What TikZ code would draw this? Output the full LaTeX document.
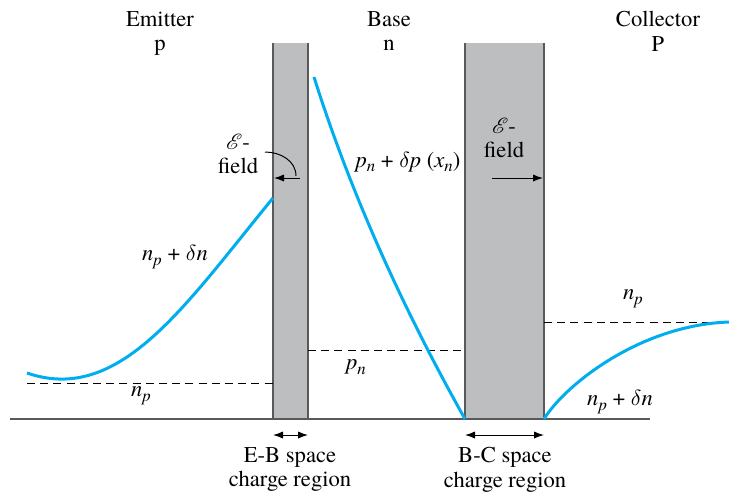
\documentclass[tikz,border=0pt]{standalone}
\usepackage{mathrsfs}
\usepackage{fontspec}
\setmainfont{texgyretermes}[Extension=.otf, UprightFont=*-regular, ItalicFont=*-italic, BoldFont=*-bold, BoldItalicFont=*-bolditalic]
\usetikzlibrary{arrows.meta}
\definecolor{carrier}{HTML}{00AEEF}
\definecolor{scrfill}{HTML}{BCBEC0}
\definecolor{scredge}{HTML}{58595B}
\newcommand{\cq}[2]{\textit{#1}\raisebox{-0.45ex}{\fontsize{8.4}{9}\selectfont\textit{#2}}}

\begin{document}
\begin{tikzpicture}[x=0.5pt, y=-0.5pt,
  font=\fontsize{11.3}{12.3}\selectfont,
  lbl/.style={align=center, inner sep=0pt},
  conc/.style={carrier, line width=1.5pt},
  eq/.style={dash pattern=on 4pt off 2.6pt, line width=0.5pt},
  fld/.style={-{Latex[length=5pt,width=3.6pt]}, line width=0.5pt}]
  \useasboundingbox (0,0) rectangle (729,495);

  \node[lbl, anchor=north] (em)  at (160,11)  {Emitter\\p};
  \node[lbl, anchor=north] (ba)  at (389,11)  {Base\\n};
  \node[lbl, anchor=north] (co)  at (658,11)  {Collector\\P};

  \coordinate (ebT) at (273,43);  \coordinate (ebB) at (308,419);
  \coordinate (bcT) at (465,43);  \coordinate (bcB) at (544,419);
  \fill[scrfill] (ebT) rectangle (ebB);
  \fill[scrfill] (bcT) rectangle (bcB);
  \draw[scredge, line width=0.7pt] (273,43) -- (273,419) (308,43) -- (308,419);
  \draw[scredge, line width=0.7pt] (465,43) -- (465,419) (544,43) -- (544,419);
  \draw[scredge, line width=0.8pt] (10,419) -- (650,419);

  \draw[eq] (27,383) -- (273,383);
  \draw[eq] (308,350) -- (465,350);
  \draw[eq] (544,322) -- (729,322);

  \draw[conc] (27,373) .. controls (120,405) and (185,305) .. (273,198);
  \draw[conc] (314,77) .. controls (350,191) and (401,305) .. (465,419);
  \draw[conc] (544,419) .. controls (565,385) and (640,325) .. (729,322);

  \node (npl)  at (175,257) {\cq{n}{p} + $\delta$\textit{n}};
  \node (pnd)  at (408,162) {\cq{p}{n} + $\delta$\textit{p} (\cq{x}{n})};
  \node (pn)   at (356,367) {\cq{p}{n}};
  \node (np0)  at (141,396) {\cq{n}{p}};
  \node (npr)  at (633,299) {\cq{n}{p}};
  \node (npr2) at (620,402) {\cq{n}{p} + $\delta$\textit{n}};

  \node[lbl] (fl) at (238,154) {$\mathscr{E}$-\\field};
  \node[lbl] (fr) at (504,138) {$\mathscr{E}$-\\field};
  \coordinate (flS) at (265,152);
  \coordinate (flK) at (296,176);
  \draw[line width=0.5pt] (flS) to[out=0, in=90] (flK);
  \draw[fld] (300,178) -- (274,178);
  \draw[fld] (492,178) -- (543,178);

  \coordinate (ebL) at (273,435); \coordinate (ebR) at (308,435);
  \coordinate (bcL) at (465,435); \coordinate (bcR) at (544,435);
  \draw[{Latex[length=5pt,width=3.6pt]}-{Latex[length=5pt,width=3.6pt]}, line width=0.5pt] (ebL) -- (ebR);
  \draw[{Latex[length=5pt,width=3.6pt]}-{Latex[length=5pt,width=3.6pt]}, line width=0.5pt] (bcL) -- (bcR);
  \node[lbl, anchor=north] (ebt) at (290,447) {E-B space\\charge region};
  \node[lbl, anchor=north] (bct) at (505,447) {B-C space\\charge region};
\end{tikzpicture}
\end{document}
